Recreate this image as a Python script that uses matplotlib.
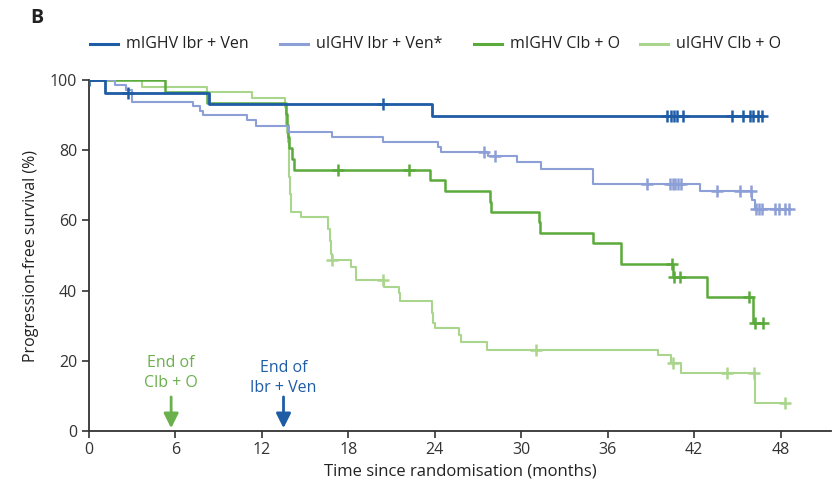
import numpy as np
import matplotlib
matplotlib.use("Agg")
from matplotlib import pyplot as plt
from matplotlib.lines import Line2D

plt.rcParams['font.family'] = ['Open Sans', 'DejaVu Sans']

# ---- data (months, % progression-free) ----
# mIGHV Ibr + Ven
m_iv_t = [1.1, 8.3, 23.8]
m_iv_s = [96.4, 93.1, 89.8]
m_iv_cens = [0.0, 2.7, 20.4, 40.1, 40.4, 40.6, 40.8, 41.2, 44.6, 45.4, 45.9, 46.1, 46.4, 46.7]

# uIGHV Ibr + Ven*
u_iv_t = [1.8, 2.6, 2.95, 7.2, 7.7, 7.9, 11.0, 11.6, 13.8, 16.9, 20.4, 24.2, 24.4,
          27.7, 29.7, 31.4, 35.0, 42.4, 46.0, 46.2]
u_iv_s = [98.5, 97.2, 93.8, 92.6, 91.2, 90.0, 88.7, 87.0, 85.3, 83.9, 82.3, 80.9, 79.6,
          78.3, 76.5, 74.6, 70.3, 68.4, 65.8, 63.2]
u_iv_cens = [27.4, 28.2, 38.75, 40.3, 40.5, 40.7, 40.9, 41.1, 43.6, 45.2, 45.95,
             46.3, 46.5, 46.7, 47.6, 47.9, 48.3, 48.6]

# mIGHV Clb + O
m_co_t = [5.3, 8.2, 13.7, 13.75, 13.8, 13.85, 14.1, 14.25, 23.7, 24.7, 27.8, 27.9,
          31.2, 31.3, 35.0, 36.9, 40.5, 42.9, 46.1]
m_co_s = [96.6, 93.5, 90.3, 87.1, 83.9, 80.6, 77.6, 74.4, 71.5, 68.5, 65.3, 62.5,
          59.6, 56.5, 53.5, 47.5, 44.0, 38.1, 30.9]
m_co_cens = [17.3, 22.2, 40.45, 40.6, 41.0, 45.8, 46.2, 46.8]

# uIGHV Clb + O
u_co_t = [3.65, 8.2, 11.3, 13.6, 13.65, 13.7, 13.75, 13.8, 13.85, 13.9, 13.95, 14.0,
          14.7, 16.6, 16.7, 16.8, 16.85, 18.2, 18.5, 20.5, 21.5, 21.6, 23.8, 23.9,
          24.0, 25.7, 25.8, 27.6, 39.5, 40.4, 41.1, 46.2, 46.25]
u_co_s = [97.9, 96.6, 94.9, 92.4, 89.9, 87.4, 84.9, 82.4, 77.4, 72.4, 67.4, 62.5,
          60.9, 57.5, 54.0, 50.5, 48.7, 46.6, 43.0, 41.1, 39.2, 37.1, 33.5, 30.7,
          29.3, 27.4, 25.4, 23.1, 21.7, 19.5, 16.6, 13.8, 8.1]
u_co_cens = [16.9, 20.4, 31.05, 40.5, 44.3, 46.15, 48.3]

labels = ['mIGHV Ibr + Ven', 'uIGHV Ibr + Ven*', 'mIGHV Clb + O', 'uIGHV Clb + O']
colors = ['#1f5ca6', '#8c9fd6', '#5aab3b', '#a9d58c']
widths = [2.0, 1.5, 1.8, 1.5]
xticks = [0, 6, 12, 18, 24, 30, 36, 42, 48]
yticks = [0, 20, 40, 60, 80, 100]

series = [(m_iv_t, m_iv_s, m_iv_cens), (u_iv_t, u_iv_s, u_iv_cens),
          (m_co_t, m_co_s, m_co_cens), (u_co_t, u_co_s, u_co_cens)]

fig = plt.figure(figsize=(8.39, 4.86), dpi=100)
ax = fig.add_axes([89 / 839, 55 / 486, 742 / 839, 351 / 486])

# draw back to front so the dark blue sits on top
for k in [3, 2, 1, 0]:
    t, s, cens = series[k]
    end = max(max(cens), t[-1])
    tt = np.array([0] + list(t) + [end])
    ss = np.array([100] + list(s) + [s[-1]])
    ax.step(tt, ss, where='post', color=colors[k], lw=widths[k], zorder=3 + (3 - k))
    # censor marks sit on the curve
    idx = np.searchsorted(np.array(t), np.array(cens), side='right')
    cy = np.concatenate([[100.0], np.array(s)])[idx]
    ax.plot(cens, cy, ls='none', marker='+', ms=8, mew=1.8, color=colors[k],
            zorder=3 + (3 - k))

ax.set_xlim(0, 51.5)
ax.set_ylim(0, 100)
ax.set_xticks(xticks)
ax.set_yticks(yticks)
ax.tick_params(direction='out', length=5, width=1.2, labelsize=11.5, colors='#333333')
ax.tick_params(axis='x', pad=3)
for sp in ['top', 'right']:
    ax.spines[sp].set_visible(False)
for sp in ['left', 'bottom']:
    ax.spines[sp].set_linewidth(1.3)
    ax.spines[sp].set_color('#333333')
ax.spines['left'].set_bounds(0, 100)
ax.set_clip_on(False)
ax.set_xlabel('Time since randomisation (months)', fontsize=12, color='#222222', labelpad=4)
ax.set_ylabel('Progression-free survival (%)', fontsize=11.5, color='#222222', labelpad=8)

# treatment end markers
ax.annotate('', xy=(5.7, 0), xytext=(5.7, 10.5),
            arrowprops=dict(arrowstyle='-|>', color='#6ab04c', lw=2, mutation_scale=22))
ax.text(5.7, 16.5, 'End of\nClb + O', color='#6ab04c', fontsize=11.5, ha='center',
        va='center', linespacing=1.35)
ax.annotate('', xy=(13.5, 0), xytext=(13.5, 10.5),
            arrowprops=dict(arrowstyle='-|>', color='#1f5ca6', lw=2, mutation_scale=22))
ax.text(13.5, 15.2, 'End of\nIbr + Ven', color='#1f5ca6', fontsize=11.5, ha='center',
        va='center', linespacing=1.35)

# legend along the top
leg_x = [90, 280, 474, 640]
ly = 1 - 44 / 486
for k in range(4):
    x0 = leg_x[k] / 839
    fig.add_artist(Line2D([x0, x0 + 28 / 839], [ly, ly], transform=fig.transFigure,
                          color=colors[k], lw=2.2))
    fig.text(x0 + 36 / 839, ly, labels[k], fontsize=11.5, va='center', ha='left',
             color='#222222')

fig.text(30 / 839, 1 - 18 / 486, 'B', fontsize=14, fontweight='bold', va='center',
         ha='left', color='#222222')

fig.savefig('out.png', dpi=100)
